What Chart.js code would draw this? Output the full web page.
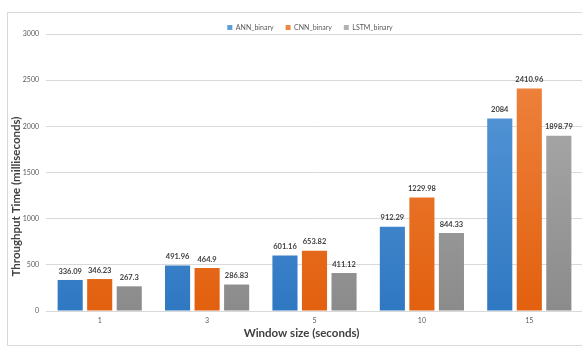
<!DOCTYPE html>
<html>
<head>
<meta charset="utf-8">
<script src="https://cdn.jsdelivr.net/npm/chart.js@4"></script>
<style>
  html, body { margin: 0; padding: 0; background: #fff; overflow: hidden; width: 582px; height: 346px; }
  #box {
    position: absolute; left: 7px; top: 12px;
    width: 575px; height: 332px;
    border: 1px solid #d9d9d9;
  }
</style>
</head>
<body>
<div id="box"><canvas id="chart"></canvas></div>
<script>
// window sizes on the x axis
const windowSizes = ["1", "3", "5", "10", "15"];

// throughput time (ms) per model
const annBinary = [336.09, 491.96, 601.16, 912.29, 2084];
const cnnBinary = [346.23, 464.9, 653.82, 1229.98, 2410.96];
const lstmBinary = [267.3, 286.83, 411.12, 844.33, 1898.79];

const yTicks = [0, 500, 1000, 1500, 2000, 2500, 3000];

const FONT = "Lato, 'Open Sans', sans-serif";

function grad(top, bottom) {
    return function(ctx) {
        const area = ctx.chart.chartArea;
        if (!area) return top;
        const g = ctx.chart.ctx.createLinearGradient(0, area.top, 0, area.bottom);
        g.addColorStop(0, top);
        g.addColorStop(1, bottom);
        return g;
    };
}

// 🔹 value labels above bars + axis titles
const labelsPlugin = {
    id: 'labelsPlugin',
    afterInit(chart) {
        // legend: keep its row short and nudge it like the original
        const legend = chart.legend;
        const fit = legend.fit;
        legend.fit = function() { fit.call(this); this.height = 21; };
        const draw = legend.draw;
        legend.draw = function() {
            chart.ctx.save();
            chart.ctx.translate(14, -1);
            draw.call(this);
            chart.ctx.restore();
        };
    },
    afterDatasetsDraw(chart) {
        const ctx = chart.ctx;
        const area = chart.chartArea;
        ctx.save();
        ctx.font = "bold 7.5px " + FONT;
        ctx.fillStyle = "#404040";
        ctx.textAlign = "center";
        ctx.textBaseline = "bottom";
        chart.data.datasets.forEach((ds, i) => {
            chart.getDatasetMeta(i).data.forEach((bar, j) => {
                ctx.fillText(String(ds.data[j]), bar.x, bar.y - 5);
            });
        });

        // axis titles
        ctx.textBaseline = "middle";
        ctx.font = "bold 11.5px " + FONT;
        ctx.fillText('Window size (seconds)', (area.left + area.right) / 2 - 13, area.bottom + 22);

        ctx.translate(area.left - 30, (area.top + area.bottom) / 2 + 24);
        ctx.rotate(-Math.PI / 2);
        ctx.font = "bold 11.5px " + FONT;
        ctx.fillText('Throughput Time (milliseconds)', 0, 0);
        ctx.restore();
    }
};

new Chart(document.getElementById('chart'), {
    type: 'bar',
    data: {
        labels: windowSizes,
        datasets: [
            { label: 'ANN_binary', data: annBinary, backgroundColor: grad('#5e9ddb', '#2f78c2') },
            { label: 'CNN_binary', data: cnnBinary, backgroundColor: grad('#f08845', '#e2600e') },
            { label: 'LSTM_binary', data: lstmBinary, backgroundColor: grad('#b2b2b2', '#8b8b8b') }
        ]
    },
    options: {
        responsive: true,
        maintainAspectRatio: false,
        animation: false,
        layout: { padding: { left: 1, right: 0, top: 0, bottom: 0 } },
        datasets: {
            bar: { categoryPercentage: 0.825, barPercentage: 0.85 }
        },
        plugins: {
            legend: {
                display: true,
                position: 'top',
                labels: {
                    boxWidth: 5, boxHeight: 5,
                    padding: 12,
                    color: '#595959',
                    font: { family: FONT, size: 7 }
                }
            },
            tooltip: { enabled: false }
        },
        scales: {
            x: {
                afterFit(axis) { axis.height = 34; },
                grid: { display: false, drawTicks: false },
                border: { display: false },
                ticks: { color: '#595959', font: { family: FONT, size: 7 }, padding: 6 }
            },
            y: {
                min: 0, max: 3000,
                afterBuildTicks(axis) { axis.ticks = yTicks.map(v => ({ value: v })); },
                afterFit(axis) { axis.width = 37; },
                grid: { color: '#d9d9d9', drawTicks: false },
                border: { display: false },
                ticks: {
                    color: '#595959', font: { family: FONT, size: 7 }, padding: 7,
                    callback: v => String(v)
                }
            }
        }
    },
    plugins: [labelsPlugin]
});
</script>
</body>
</html>
